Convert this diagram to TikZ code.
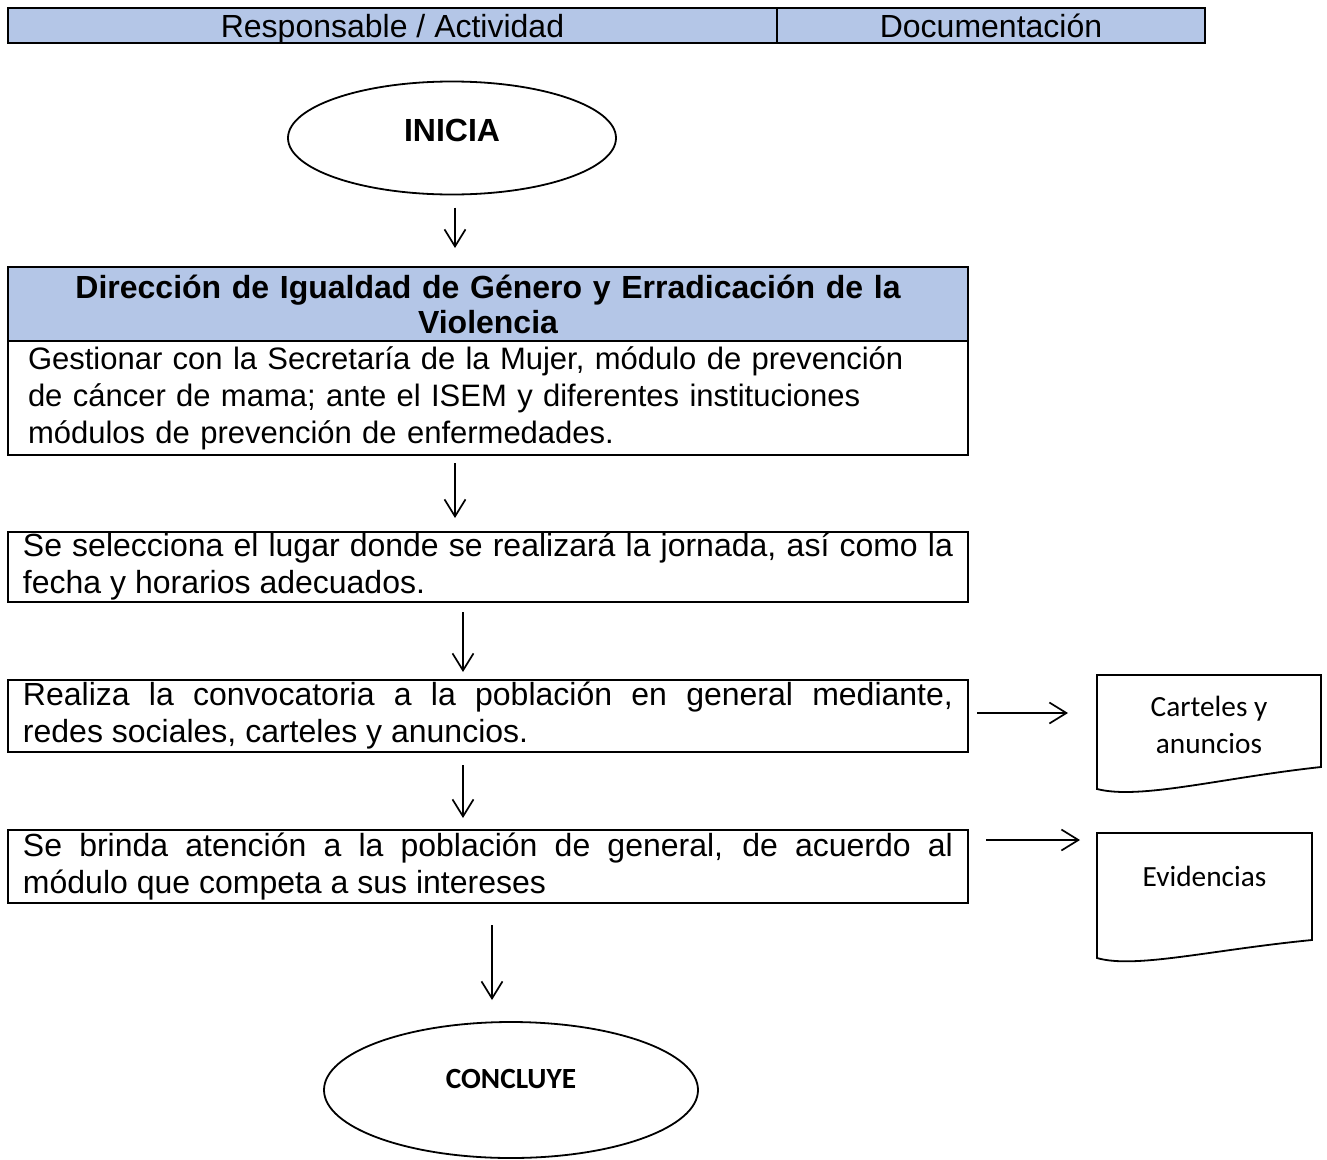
\documentclass[tikz,border=0pt]{standalone}
\usepackage{fontspec}
\setmainfont{Liberation Sans}
\newfontfamily\calfont{Carlito}
\usetikzlibrary{arrows.meta,shapes.geometric,calc}
\definecolor{hdrblue}{HTML}{B4C6E7}
\begin{document}
\begin{tikzpicture}[x=1pt,y=-1pt,
  every node/.style={inner sep=0pt, outer sep=0pt},
  mainfont/.style={font=\fontsize{32}{37}\selectfont},
  hdr/.style={draw, line width=1.8pt, fill=hdrblue, minimum height=35pt, text height=23pt, text depth=0pt, mainfont},
  bx/.style={draw, line width=1.8pt, minimum width=960pt, text width=930pt, inner xsep=15pt, mainfont},
  term/.style={draw, ellipse, line width=1.8pt},
  docshape/.style={draw, line width=1.8pt},
  docnode/.style={font=\calfont\fontsize{29.3}{37}\selectfont, align=center},
  arr/.style={line width=1.7pt, -{Straight Barb[length=17pt,width=21pt]}}
]
\useasboundingbox (0,0) rectangle (1327,1159);

% header
\node[hdr, minimum width=769pt] (hdrL) at (392.5,25.5) {Responsable / Actividad};
\node[hdr, minimum width=428pt] (hdrR) at (991,25.5) {Documentación};

% start
\node[term, minimum width=328pt, minimum height=113pt, text depth=16pt,
      font=\bfseries\fontsize{32}{37}\selectfont] (ini) at (452,138) {INICIA};

% box 1
\node[bx, fill=hdrblue, minimum height=74pt, align=center, font=\bfseries\fontsize{32}{35}\selectfont] (b1h) at (488,304)
  {Dirección de Igualdad de Género y Erradicación de la\\Violencia};
\node[bx, minimum height=114pt, align=left, text width=920pt, inner xsep=20pt, font=\fontsize{31}{37}\selectfont] (b1b) at (488,398)
  {Gestionar con la Secretaría de la Mujer, módulo de prevención\\de cáncer de mama; ante el ISEM y diferentes instituciones\\módulos de prevención de enfermedades.};

% box 2
\node[bx, minimum height=70pt, align=justify] (b2) at (488,567)
  {Se selecciona el lugar donde se realizará la jornada, así como la\linebreak fecha y horarios adecuados.};

% box 3
\node[bx, minimum height=72pt, align=justify] (b3) at (488,716)
  {Realiza la convocatoria a la población en general mediante,\linebreak redes sociales, carteles y anuncios.};

% box 4
\node[bx, minimum height=73pt, align=justify] (b4) at (488,866.5)
  {Se brinda atención a la población de general, de acuerdo al\linebreak módulo que competa a sus intereses};

% end
\node[term, minimum width=374pt, minimum height=136pt, text depth=22pt,
      font=\calfont\bfseries\fontsize{29.3}{35}\selectfont] (fin) at (511,1090) {CONCLUYE};

% documents
\draw[docshape] (1097,675) -- (1321,675) -- (1321,767) .. controls (1220,778) and (1140,800) .. (1097,789) -- cycle;
\node[docnode, minimum width=224pt] (doc1) at (1209,724.5) {Carteles y\\anuncios};
\draw[docshape] (1097,833) -- (1312,833) -- (1312,940) .. controls (1210,950) and (1135,969) .. (1097,958) -- cycle;
\node[docnode, minimum width=215pt] (doc2) at (1204.5,876) {Evidencias};

% connectors
\draw[arr, shorten <=13pt, shorten >=19pt] ([xshift=3pt]ini.south) -- ([xshift=3pt]ini.south |- b1h.north);
\draw[arr, shorten <=8pt, shorten >=14pt] ([xshift=-33pt]b1b.south) -- ([xshift=-33pt]b2.north);
\draw[arr, shorten <=10pt, shorten >=8pt] ([xshift=-25pt]b2.south) -- ([xshift=-25pt]b3.north);
\draw[arr, shorten <=13pt, shorten >=12pt] ([xshift=-25pt]b3.south) -- ([xshift=-25pt]b4.north);
\draw[arr, shorten <=22pt, shorten >=22pt] ([xshift=4pt]b4.south) -- ([xshift=4pt]b4.south |- fin.north);
\draw[arr, shorten <=9pt, shorten >=29pt] ([yshift=3pt]b3.east) -- ([yshift=3pt]b3.east -| doc1.west);
\coordinate (c4) at ([xshift=18pt,yshift=-10pt]b4.north east);
\draw[arr, shorten >=17pt] (c4) -- (c4 -| doc2.west);
\end{tikzpicture}
\end{document}
